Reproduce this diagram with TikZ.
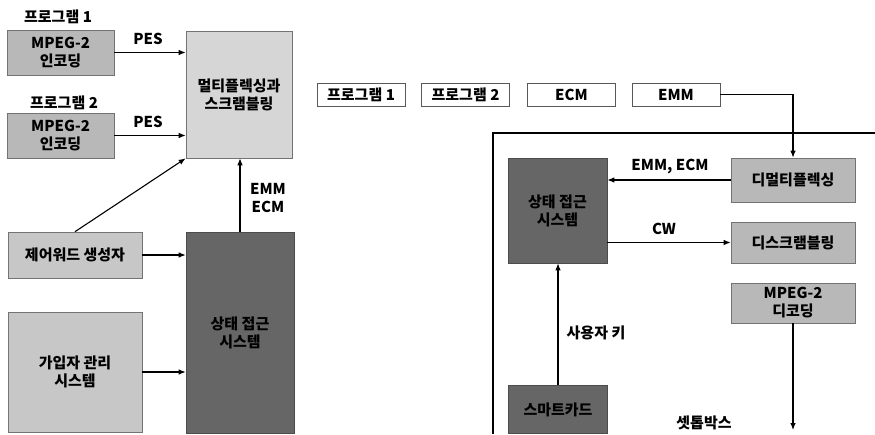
\documentclass[tikz,border=0pt]{standalone}
\usepackage{fontspec}
\setmainfont{Noto Sans CJK KR}
\usetikzlibrary{arrows.meta}
\definecolor{midgray}{gray}{0.72}
\definecolor{litgray}{gray}{0.84}
\definecolor{cwgray}{gray}{0.78}
\definecolor{casgray}{gray}{0.40}
\begin{document}
\begin{tikzpicture}[x=1pt,y=-1pt,
  txt/.style={font=\fontsize{15}{18}\selectfont\bfseries, align=center, inner sep=0pt, text=black},
  box/.style={txt, rectangle, draw=black!55, line width=0.6pt},
  encbox/.style={box, fill=midgray},
  muxbox/.style={box, fill=litgray},
  genbox/.style={box, fill=cwgray},
  darkbox/.style={box, fill=casgray, draw=black!70},
  tagbox/.style={box, fill=white, draw=black!65, minimum height=23, minimum width=88},
  arr/.style={-{Latex[length=7pt,width=5.5pt]}, line width=1.1pt},
  frame/.style={line width=1.2pt}
]
\useasboundingbox (0,0) rectangle (875,434);

% left: head end
\node[txt] (lbl1) at (58,17) {프로그램 1};
\node[encbox, minimum width=107, minimum height=45] (enc1) at (60.5,52.5) {MPEG-2\\인코딩};
\node[txt] (lbl2) at (64,103) {프로그램 2};
\node[encbox, minimum width=107, minimum height=45] (enc2) at (60.5,135.5) {MPEG-2\\인코딩};
\node[muxbox, minimum width=106, minimum height=127] (mux) at (239,94.5) {멀티플렉싱과\\스크램블링};
\node[genbox, minimum width=134, minimum height=46] (cwg) at (75,255) {제어워드 생성자};
\node[genbox, minimum width=134, minimum height=120] (sms) at (75,372) {가입자 관리\\시스템};
\node[darkbox, minimum width=108, minimum height=201] (cas) at (240,332.5) {};
\node[txt] (castxt) at (cas.center) {상태 접근\\시스템};

\node[txt] (pes1) at (148,39) {PES};
\node[txt] (pes2) at (148,122) {PES};
\node[txt] (emmecm) at (268,198) {EMM\\ECM};

\draw[arr] (enc1.east) -- (enc1.east -| mux.west);
\draw[arr] (enc2.east) -- (enc2.east -| mux.west);
\draw[arr] (cwg.east) -- (cwg.east -| cas.west);
\draw[arr] (sms.east) -- (sms.east -| cas.west);
\draw[arr] (cas.north) -- (cas.north |- mux.south);
\draw[arr] (cwg.north) -- (mux.south west);

% middle: stream
\node[tagbox] (t1) at (361,94.5) {프로그램 1};
\node[tagbox] (t2) at (465.5,94.5) {프로그램 2};
\node[tagbox] (t3) at (571.5,94.5) {ECM};
\node[tagbox] (t4) at (676,94.5) {EMM};

% right: set-top box
\coordinate (stl) at (493,434);
\coordinate (stc) at (493,133);
\coordinate (str) at (875,133);
\draw[frame] (stl) -- (stc) -- (str);

\node[darkbox, minimum width=99, minimum height=105] (cas2) at (557.5,210.5) {};
\node[txt] (cas2txt) at (cas2.center) {상태 접근\\시스템};
\node[encbox, minimum width=124, minimum height=44] (demux) at (793,180) {디멀티플렉싱};
\node[encbox, minimum width=124, minimum height=41] (desc) at (793,242.5) {디스크램블링};
\node[encbox, minimum width=124, minimum height=40] (dec) at (793,303) {MPEG-2\\디코딩};
\node[darkbox, minimum width=99, minimum height=48] (smart) at (558,409.5) {};
\node[txt] (smarttxt) at (smart.center) {스마트카드};
\coordinate (out) at (793,430);

\node[txt] (lemm) at (670,167) {EMM, ECM};
\node[txt] (lcw) at (664,229) {CW};
\node[txt] (lkey) at (596,333) {사용자 키};
\node[txt] (lstb) at (704,423) {셋톱박스};

\draw[arr] (t4.east) -| (demux.north);
\draw[arr] (demux.west) -- (demux.west -| cas2.east);
\draw[arr] (desc.west -| cas2.east) -- (desc.west);
\draw[arr] (smart.north) -- (smart.north |- cas2.south);
\draw[arr] (dec.south) -- (out);
\end{tikzpicture}
\end{document}
